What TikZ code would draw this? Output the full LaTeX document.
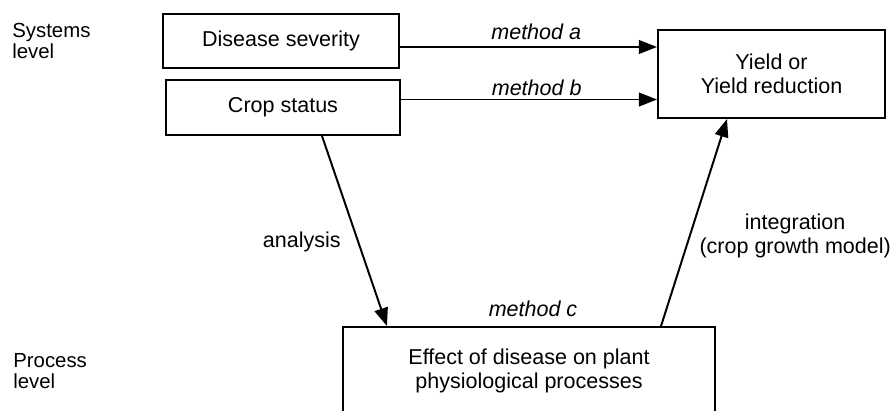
\documentclass[tikz,border=0pt]{standalone}
\usepackage{fontspec}
\setmainfont{Liberation Sans}
\usetikzlibrary{calc, positioning, arrows.meta}
\tikzset{
	node distance = 1.5em,
	>={Triangle[length=0.45cm, width=0.34cm]},
	font = \fontsize{15.3}{17}\selectfont,
	box/.style={
		draw,
		rectangle,
		line width=1.4pt,
		align=center,
		inner sep=2pt
	},
	edge/.style={
		->,
		line width=1.4pt
	},
	level label/.style={
		anchor=west,
		align=left,
		inner sep=0pt,
		font=\fontsize{14.5}{14.5}\selectfont
	},
	method label/.style={
		font=\fontsize{15.3}{17}\selectfont\itshape,
		inner sep=0pt
	},
	step label/.style={
		align=center,
		inner sep=0pt
	}
}

\begin{document}
\begin{tikzpicture}[x=0.025cm, y=-0.025cm]
\useasboundingbox (0,0) rectangle (891,410);
% ---
% systems level
% ---
\node[box, minimum width=5.9cm, minimum height=1.35cm] at (281,41) (sev) {Disease severity};
\node[box, minimum width=5.85cm, minimum height=1.375cm] at (283,107.5) (crop) {Crop status};
\node[box, minimum width=5.675cm, minimum height=2.2cm] at (771.5,74) (yield) {Yield or\\Yield reduction};
\node[level label] at (12,41) (sys) {Systems\\level};

% ---
% process level
% ---
\node[box, minimum width=9.3cm, minimum height=2.2cm] at (529,371) (effect) {Effect of disease on plant\\physiological processes};
\node[level label] at (13,371) (proc) {Process\\level};
\node[method label, above=0.22cm of effect.north, xshift=0.1cm] (mc) {method c};

% ---
% methods
% ---
\draw[edge] ($(sev.east)+(0,6)$) coordinate (a0) -- node[method label, above=0.16cm, pos=.53] (ma) {method a} (a0 -| yield.west);
\draw[edge] ($(crop.east)+(0,-8)$) coordinate (b0) -- node[method label, above=0.06cm, pos=.53] (mb) {method b} (b0 -| yield.west);
\draw[edge] ($(crop.south)+(39,0)$) -- node[step label, pos=.56, left=0.42cm] (an) {analysis} ($(effect.north west)+(45,0)$);
\draw[edge] ($(effect.north east)+(-55,0)$) -- node[step label, pos=.435, right=0.22cm] (int) {integration\\(crop growth model)} ($(yield.south)+(-44.5,0)$);
\end{tikzpicture}
\end{document}
